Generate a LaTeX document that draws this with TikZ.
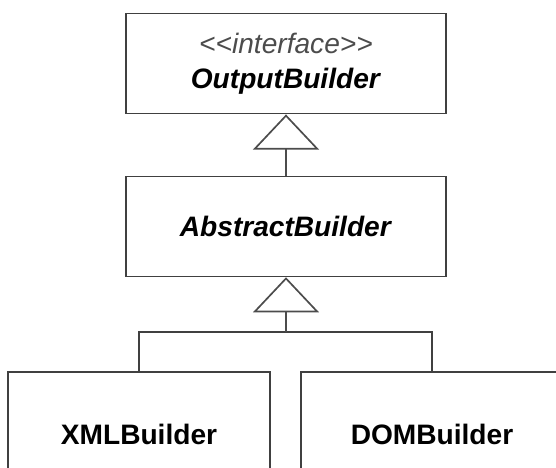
\documentclass[tikz,border=0pt]{standalone}
\usepackage{fontspec}
\newfontfamily\umlfont{Liberation Sans}
\usetikzlibrary{arrows.meta, positioning}

\begin{document}
\begin{tikzpicture}[line width=1.2pt,cls/.style={rectangle,draw=black!75,minimum width=8cm,minimum height=2.5cm,align=center,font=\umlfont\fontsize{20}{25}\selectfont},leaf/.style={cls,minimum width=6.55cm,minimum height=3.1cm},inherit/.style={draw=black!70,-{Triangle[open,length=0.88cm,width=1.65cm]}}]
\useasboundingbox (0,0) rectangle (13.9,11.7);
\clip (0,0) rectangle (13.9,11.7);
\node[cls] (output) at (7.15,10.11) {{\itshape\color{black!70}<<interface>>}\\\textbf{\itshape OutputBuilder}};
\node[cls] (abstract) at (7.15,6.04) {\textbf{\itshape AbstractBuilder}};
\node[leaf] (xml) at (3.475,0.85) {\textbf{XMLBuilder}};
\node[leaf] (dom) at (10.8,0.85) {\textbf{DOMBuilder}};
\coordinate (fork) at (7.15,3.4);
\draw[inherit] (abstract) -- (output);
\draw[draw=black!75] (xml.north) |- (fork) -| (dom.north);
\draw[inherit] (fork) -- (abstract.south);
\end{tikzpicture}
\end{document}
